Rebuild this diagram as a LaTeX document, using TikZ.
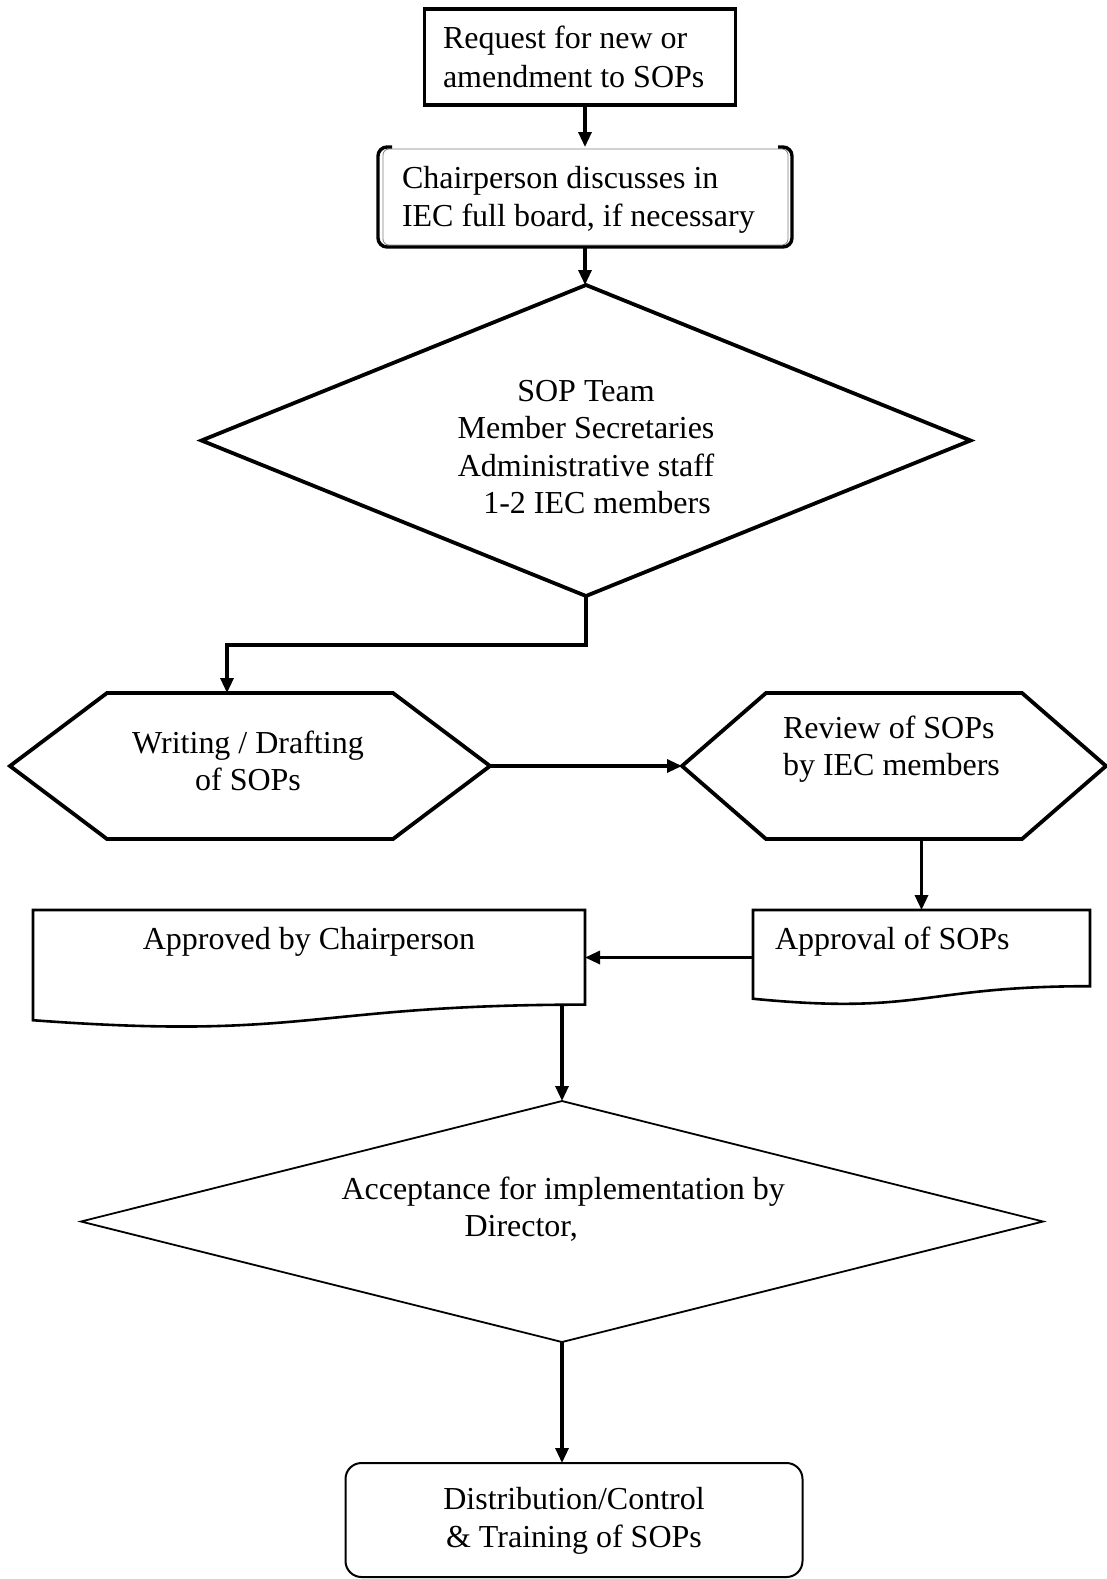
\documentclass[tikz,border=0pt]{standalone}
\usepackage{fontspec}
\setmainfont{Liberation Serif}
\usetikzlibrary{arrows.meta,calc}

% hexagon drawn over a frame node; #2 = horizontal inset of the slanted sides
\newcommand{\hexdraw}[2]{%
  \draw[heavy] (#1.west) -- ($(#1.north west)+(#2,0)$) -- ($(#1.north east)+(-#2,0)$)
    -- (#1.east) -- ($(#1.south east)+(-#2,0)$) -- ($(#1.south west)+(#2,0)$) -- cycle;}
% diamond drawn over a frame node
\newcommand{\diadraw}[2]{%
  \draw[#2] (#1.north) -- (#1.east) -- (#1.south) -- (#1.west) -- cycle;}
% document sheet with wavy lower edge
\newcommand{\docdraw}[1]{%
  \draw[medium] (#1.north west) -- (#1.north east)
    -- ($(#1.north east)!0.802!(#1.south east)$)
    .. controls ($(#1.north)!0.802!(#1.south)$) and ($(#1.north)!1.108!(#1.south)$)
    .. ($(#1.north west)!0.934!(#1.south west)$) -- cycle;}

\begin{document}
\begin{tikzpicture}[x=1pt,y=-1pt,
  frame/.style={rectangle,draw=none,inner sep=0pt,outer sep=0pt},
  lbl/.style={inner sep=0pt,outer sep=0pt,font=\fontsize{32}{37.5}\selectfont},
  heavy/.style={line width=3.8pt,line join=miter},
  medium/.style={line width=2.6pt},
  light/.style={line width=1.8pt},
  flow/.style={line width=3.2pt,-{Triangle[length=15pt,width=13pt]}},
]
\useasboundingbox[fill=white] (0,0) rectangle (1107,1579);

% --- shapes ---
\node[frame,minimum width=311pt,minimum height=96pt] (req) at (580,57) {};
\draw[heavy] (req.north west) rectangle (req.south east);

\node[frame,minimum width=414pt,minimum height=100pt] (chair) at (585,197) {};
\draw[line width=0.8pt,gray,rounded corners=6pt]
  ($(chair.north west)+(5,2)$) rectangle ($(chair.south east)+(-4,-2)$);
\draw[line width=3.4pt,rounded corners=9pt]
  ($(chair.north west)+(14,0)$) -- (chair.north west) -- (chair.south west)
  -- (chair.south east) -- (chair.north east) -- ($(chair.north east)+(-14,0)$);

\node[frame,minimum width=769pt,minimum height=311pt] (team) at (586,440.5) {};
\diadraw{team}{heavy}

\node[frame,minimum width=480pt,minimum height=146pt] (draft) at (250,766) {};
\hexdraw{draft}{97}

\node[frame,minimum width=424pt,minimum height=146pt] (review) at (894,766) {};
\hexdraw{review}{84}

\node[frame,minimum width=337pt,minimum height=95pt] (approval) at (921.5,957.5) {};
\docdraw{approval}

\node[frame,minimum width=552pt,minimum height=118pt] (approved) at (309,969) {};
\docdraw{approved}

\node[frame,minimum width=962pt,minimum height=241pt] (accept) at (562,1221.5) {};
\diadraw{accept}{light}

\node[frame,minimum width=457pt,minimum height=114pt] (distrib) at (574,1520) {};
\draw[line width=2pt,rounded corners=16pt] (distrib.north west) rectangle (distrib.south east);

% --- texts ---
\node[lbl,align=left,anchor=west,font=\fontsize{32}{39}\selectfont] (reqT) at (443,57) {Request for new or\\amendment to SOPs};
\node[lbl,align=left,anchor=west] (chairT) at (402,200) {Chairperson discusses in\\IEC full board, if necessary};
\node[lbl,align=center] (teamT) at (586,447) {SOP Team\\Member Secretaries\\Administrative staff\\\hspace*{22pt}1-2 IEC members};
\node[lbl,align=center] (draftT) at (248,761) {Writing / Drafting\\of SOPs};
\node[lbl,align=left,anchor=west] (reviewT) at (783,749) {Review of SOPs\\by IEC members};
\node[lbl,anchor=west] (approvalT) at (775,942) {Approval of SOPs};
\node[lbl] (approvedT) at (309,942) {Approved by Chairperson};
\node[lbl,align=left,anchor=west] (acceptT) at (341.5,1209) {Acceptance for implementation by\\\hspace*{123pt}Director,};
\node[lbl,align=center] (distribT) at (574,1521) {Distribution/Control\\\& Training of SOPs};

% --- connectors ---
\coordinate (turn) at (227,645);
\coordinate (apprbr) at ($(approved.north east)!0.802!(approved.south east)$);

\draw[flow] (req.south -| chair.north) -- (chair.north);
\draw[flow] (chair.south) -- (chair.south |- team.north);
\draw[flow] (team.south) |- (turn) -- (turn |- draft.north);
\draw[flow] (draft.east) -- (review.west);
\draw[flow] (review.south -| approval.north) -- (approval.north);
\draw[flow] (approval.west) -- (approved.east |- approval.west);
\draw[flow] (apprbr -| accept.north) -- (accept.north);
\draw[flow] (accept.south) -- (accept.south |- distrib.north);
\end{tikzpicture}
\end{document}
